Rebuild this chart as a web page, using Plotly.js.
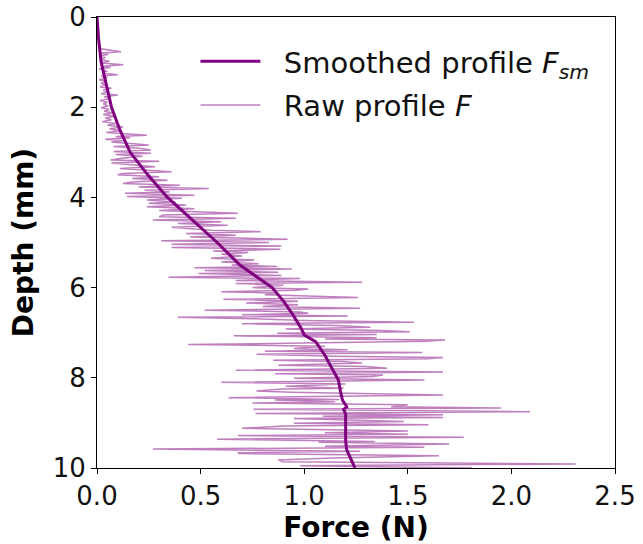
<!DOCTYPE html>
<html>
<head>
<meta charset="utf-8">
<script src="https://cdn.plot.ly/plotly-3.0.1.min.js"></script>
<style>html,body{margin:0;padding:0;background:#fff;}#chart{width:643px;height:544px;}</style>
</head>
<body>
<div id="chart"></div>
<script>
// Smoothed profile F_sm (depth in mm, force in N)
const smoothDepth = [0, 0.5, 1.0, 1.5, 2.0, 2.5, 3.0, 3.5, 4.0, 4.5, 5.0, 5.5, 5.7, 6.0, 6.3, 6.6, 6.9, 7.05, 7.2, 7.5, 7.8, 8.05, 8.3, 8.5, 8.6, 8.65, 8.7, 8.8, 9.0, 9.4, 9.6, 9.8, 10.0];
const smoothForce = [0.0, 0.008, 0.02, 0.045, 0.07, 0.11, 0.16, 0.245, 0.34, 0.46, 0.58, 0.69, 0.75, 0.845, 0.90, 0.945, 0.985, 1.0, 1.055, 1.10, 1.135, 1.165, 1.175, 1.185, 1.20, 1.205, 1.19, 1.20, 1.20, 1.20, 1.205, 1.225, 1.245];

// Raw profile F
const rawDepth = [0.00,0.05,0.10,0.15,0.20,0.25,0.30,0.35,0.40,0.45,0.50,0.55,0.60,0.65,0.70,0.74,0.77,0.80,0.83,0.86,0.90,0.94,0.98,1.02,1.06,1.09,1.12,1.15,1.20,1.24,1.28,1.31,1.35,1.39,1.43,1.47,1.51,1.55,1.58,1.62,1.66,1.70,1.73,1.77,1.81,1.85,1.89,1.93,1.97,2.01,2.05,2.09,2.13,2.16,2.20,2.24,2.28,2.32,2.36,2.40,2.44,2.48,2.52,2.56,2.59,2.62,2.65,2.68,2.71,2.74,2.77,2.81,2.84,2.87,2.91,2.95,2.98,3.02,3.05,3.09,3.13,3.17,3.20,3.24,3.28,3.32,3.36,3.40,3.43,3.47,3.50,3.54,3.58,3.62,3.66,3.69,3.73,3.77,3.80,3.84,3.88,3.91,3.95,3.98,4.02,4.06,4.10,4.13,4.17,4.21,4.25,4.29,4.32,4.35,4.39,4.43,4.46,4.50,4.54,4.58,4.62,4.66,4.70,4.73,4.76,4.80,4.84,4.88,4.93,4.96,5.00,5.04,5.08,5.11,5.15,5.19,5.22,5.26,5.30,5.35,5.39,5.43,5.47,5.50,5.53,5.56,5.59,5.62,5.66,5.69,5.73,5.77,5.80,5.84,5.88,5.91,5.95,6.00,6.03,6.06,6.09,6.12,6.16,6.20,6.22,6.26,6.30,6.34,6.38,6.42,6.46,6.50,6.54,6.57,6.60,6.63,6.66,6.69,6.73,6.77,6.80,6.84,6.88,6.92,6.95,6.98,7.01,7.04,7.07,7.11,7.14,7.16,7.19,7.23,7.26,7.30,7.35,7.38,7.41,7.44,7.48,7.52,7.55,7.58,7.61,7.64,7.67,7.72,7.75,7.79,7.83,7.87,7.91,7.94,7.97,8.01,8.05,8.10,8.14,8.19,8.23,8.25,8.29,8.32,8.38,8.44,8.48,8.49,8.53,8.56,8.60,8.64,8.67,8.70,8.75,8.79,8.82,8.85,8.88,8.90,8.94,8.97,9.01,9.04,9.07,9.12,9.18,9.22,9.25,9.28,9.32,9.36,9.41,9.43,9.47,9.52,9.54,9.58,9.63,9.66,9.68,9.73,9.78,9.82,9.86,9.91,9.95,10.00];
const rawForce = [0.000,0.003,0.002,0.005,0.003,0.006,0.004,0.008,0.005,0.010,0.006,0.012,0.008,0.015,0.010,0.060,0.116,0.020,0.055,0.010,0.040,0.015,0.060,0.020,0.127,0.030,0.065,0.010,0.050,0.025,0.100,0.020,0.050,0.010,0.045,0.020,0.040,0.015,0.070,0.030,0.050,0.020,0.100,0.035,0.060,0.015,0.050,0.030,0.055,0.020,0.060,0.035,0.075,0.030,0.085,0.040,0.070,0.025,0.090,0.050,0.125,0.060,0.110,0.045,0.140,0.240,0.090,0.160,0.040,0.130,0.070,0.180,0.250,0.080,0.200,0.260,0.080,0.260,0.090,0.220,0.120,0.065,0.300,0.070,0.200,0.280,0.110,0.250,0.360,0.130,0.100,0.300,0.170,0.340,0.170,0.125,0.400,0.200,0.540,0.230,0.350,0.135,0.470,0.145,0.410,0.240,0.380,0.250,0.430,0.240,0.470,0.300,0.500,0.680,0.320,0.300,0.670,0.270,0.600,0.390,0.630,0.360,0.470,0.550,0.790,0.430,0.670,0.450,0.920,0.310,0.830,0.360,0.890,0.360,0.885,0.560,0.730,0.600,0.700,0.550,0.760,0.600,0.780,0.650,0.870,0.470,0.940,0.520,0.875,0.490,0.890,0.345,0.980,0.670,1.280,0.670,0.900,0.750,1.020,0.960,0.600,0.860,0.810,1.090,1.260,0.610,0.970,0.720,0.970,0.800,1.270,0.520,0.980,1.020,0.700,1.210,0.390,0.750,1.000,1.530,0.700,1.150,1.320,0.910,1.370,1.510,0.870,1.350,0.660,1.350,1.100,1.680,1.590,1.000,0.440,1.100,0.950,1.210,0.810,1.570,0.770,1.150,1.670,1.600,0.850,1.180,1.280,0.875,1.300,1.400,0.670,1.670,0.860,1.380,1.330,0.950,1.580,0.600,1.200,0.910,1.190,0.895,0.770,0.940,1.670,0.635,1.170,0.860,1.150,0.750,1.500,1.420,1.950,0.755,2.090,0.765,1.670,1.090,1.670,0.950,1.300,1.480,0.950,1.600,0.900,0.700,1.500,1.100,1.500,0.680,1.770,0.580,1.340,1.070,1.700,1.100,1.580,0.270,1.270,0.680,0.685,1.650,1.140,0.875,0.895,2.310,0.980,1.810];

const xTicks = [0.0, 0.5, 1.0, 1.5, 2.0, 2.5];
const xTickLabels = ['0.0', '0.5', '1.0', '1.5', '2.0', '2.5'];
const yTicks = [0, 2, 4, 6, 8, 10];
const yTickLabels = ['0', '2', '4', '6', '8', '10'];

const font = 'DejaVu Sans, Liberation Sans, sans-serif';

const traces = [
  {
    x: smoothForce, y: smoothDepth, type: 'scatter', mode: 'lines',
    name: '\u00a0\u00a0Smoothed profile <i>F</i><sub><i>sm</i></sub>',
    legendgroup: 'a',
    line: {color: '#800080', width: 3}
  },
  {
    x: rawForce, y: rawDepth, type: 'scatter', mode: 'lines',
    name: '\u00a0\u00a0Raw profile <i>F</i>',
    legendgroup: 'b',
    line: {color: 'rgba(128,0,128,0.5)', width: 1.5}
  }
];

const layout = {
  width: 643, height: 544,
  margin: {l: 97, r: 28, t: 17, b: 76},
  paper_bgcolor: '#fff', plot_bgcolor: '#fff',
  font: {family: font, color: '#000', size: 26},
  showlegend: true,
  legend: {
    x: 0.19, y: 0.958, xanchor: 'left', yanchor: 'top',
    font: {family: font, size: 29, color: '#111'},
    itemwidth: 60, bgcolor: 'rgba(255,255,255,0)', tracegroupgap: 3
  },
  xaxis: {
    range: [0, 2.5], tickvals: xTicks, ticktext: xTickLabels,
    showgrid: false, zeroline: false, showline: true, mirror: true,
    linecolor: '#000', linewidth: 1, ticks: 'outside', ticklen: 5, tickcolor: '#000',
    tickfont: {family: font, size: 26, color: '#111'},
    title: {text: '<b>Force (N)</b>', font: {family: font, size: 28}, standoff: 3}
  },
  yaxis: {
    range: [10, 0], tickvals: yTicks, ticktext: yTickLabels,
    showgrid: false, zeroline: false, showline: true, mirror: true,
    linecolor: '#000', linewidth: 1, ticks: 'outside', ticklen: 5, tickcolor: '#000',
    tickfont: {family: font, size: 26, color: '#111'},
    title: {text: '<b>Depth (mm)</b>', font: {family: font, size: 28}, standoff: 10}
  }
};

Plotly.newPlot('chart', traces, layout, {displayModeBar: false, staticPlot: true});
</script>
</body>
</html>
